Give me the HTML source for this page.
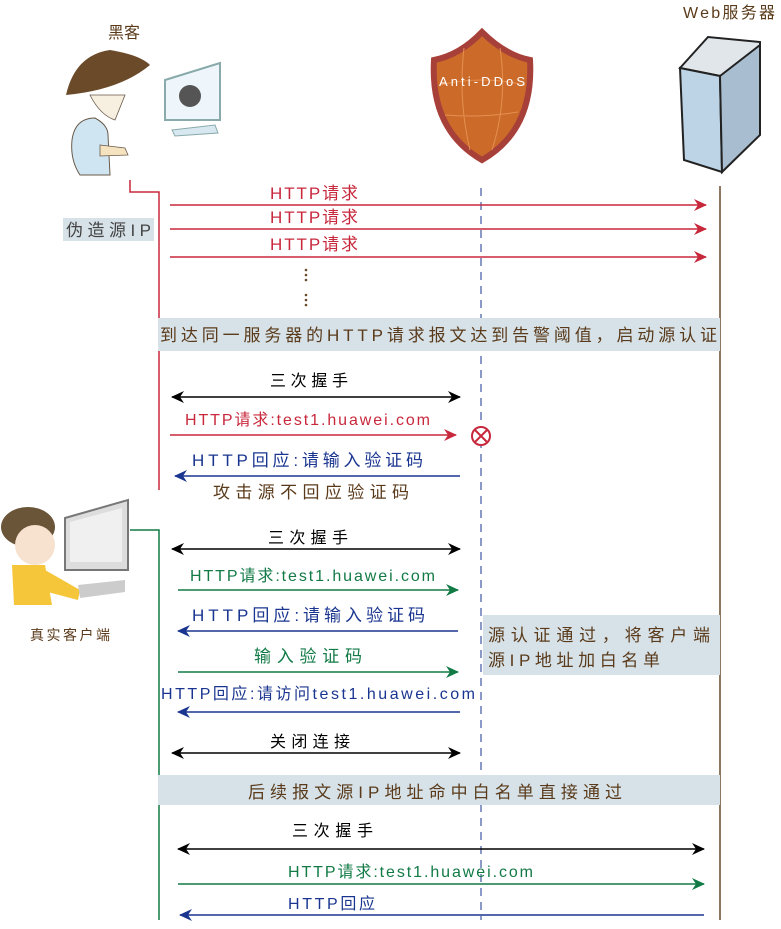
<!DOCTYPE html>
<html><head><meta charset="utf-8"><style>
body{margin:0;background:#fff;}
svg text{font-family:"Liberation Sans","Noto Sans CJK SC",sans-serif;}
</style></head><body>
<svg width="781" height="924" viewBox="0 0 781 924" xmlns="http://www.w3.org/2000/svg">
<defs>
<marker id="r" markerWidth="14" markerHeight="14" refX="12" refY="7" orient="auto-start-reverse" markerUnits="userSpaceOnUse"><path d="M0,1 L13,7 L0,13 L4,7z" fill="#c8283c"/></marker>
<marker id="k" markerWidth="14" markerHeight="14" refX="12" refY="7" orient="auto-start-reverse" markerUnits="userSpaceOnUse"><path d="M0,1 L13,7 L0,13 L4,7z" fill="#000"/></marker>
<marker id="g" markerWidth="14" markerHeight="14" refX="12" refY="7" orient="auto-start-reverse" markerUnits="userSpaceOnUse"><path d="M0,1 L13,7 L0,13 L4,7z" fill="#117a45"/></marker>
<marker id="b" markerWidth="14" markerHeight="14" refX="12" refY="7" orient="auto-start-reverse" markerUnits="userSpaceOnUse"><path d="M0,1 L13,7 L0,13 L4,7z" fill="#1a3590"/></marker>
</defs>
<text x="108" y="38" font-size="16" fill="#5a3a1a" textLength="32">黑客</text>
<text x="683" y="18" font-size="16" fill="#5a3a1a" textLength="92">Web服务器</text>
<!-- hacker -->
<path d="M66,95 Q75,55 110,50 Q140,55 150,65 Q120,90 66,95Z" fill="#6b4a2a"/>
<path d="M90,95 Q100,115 115,120 L125,95Z" fill="#f7efe0" stroke="#6a5a4a" stroke-width="0.8"/>
<path d="M72,140 Q75,118 95,118 Q108,125 108,135 L110,175 L80,175 Q70,160 72,140Z" fill="#cfe6f2" stroke="#6a5a4a"/>
<path d="M100,145 L125,148 L128,155 L100,156Z" fill="#f5e3c0" stroke="#6a5a4a" stroke-width="0.8"/>
<path d="M165,80 L220,63 L220,120 L165,120Z" fill="#eef6fb" stroke="#8aa" stroke-width="2"/>
<circle cx="190" cy="96" r="11" fill="#555"/>
<path d="M172,130 L215,125 L218,133 L175,136Z" fill="#d8e8f0" stroke="#8aa"/>
<!-- shield -->
<path d="M482,32 Q505,55 530,60 Q534,130 482,160 Q430,130 434,60 Q460,55 482,32Z" fill="#cc6a2a" stroke="#a8403a" stroke-width="6"/>
<path d="M440,85 Q482,75 525,85 M445,115 Q482,118 518,112 M464,48 Q458,100 470,150 M500,48 Q508,100 492,150" fill="none" stroke="#e49050" stroke-width="1"/>
<text x="439" y="86" font-size="13" fill="#fff" textLength="86">Anti-DDoS</text>
<!-- server -->
<path d="M680,68 L708,37 L760,42 L760,50 L730,78Z" fill="#e0e6ea" stroke="#222" stroke-width="2"/>
<path d="M680,68 L720,76 L722,172 L684,160Z" fill="#bcd4e6" stroke="#222" stroke-width="2"/>
<path d="M720,76 L760,45 L760,135 L722,172Z" fill="#a8bed0" stroke="#222" stroke-width="2"/>
<!-- client -->
<ellipse cx="28" cy="527" rx="27" ry="20" fill="#6b5538"/>
<ellipse cx="35" cy="545" rx="20" ry="20" fill="#f7e2d0"/>
<path d="M12,565 L45,565 L52,605 L14,605Z" fill="#f6c63a"/>
<path d="M45,570 L80,590 L78,600 L40,590Z" fill="#f6c63a"/>
<path d="M65,518 L128,500 L128,570 L65,570Z" fill="#ddd" stroke="#777" stroke-width="2"/>
<path d="M70,522 L122,508 L122,562 L70,562Z" fill="#f0f0f0"/>
<path d="M78,585 L125,580 L125,592 L80,598Z" fill="#ccc"/>
<text x="30" y="640" font-size="14" fill="#5a3a1a" textLength="80">真实客户端</text>
<!-- lifelines -->
<polyline points="130,180 130,192 159,192 159,490" fill="none" stroke="#c8283c" stroke-width="1.5"/>
<polyline points="130,530 159,530 159,920" fill="none" stroke="#117a45" stroke-width="1.5"/>
<line x1="720" y1="186" x2="720" y2="920" stroke="#6b4a2a" stroke-width="1.5"/>
<line x1="481" y1="188" x2="481" y2="920" stroke="#1a3590" stroke-width="1" stroke-dasharray="8,6"/>
<rect x="63" y="218" width="91" height="23" fill="#d6e2e8"/>
<text x="66" y="236" font-size="17" fill="#444" textLength="85">伪造源IP</text>
<g font-size="17" fill="#c8283c">
<text x="270" y="199" textLength="88">HTTP请求</text><text x="270" y="223" textLength="88">HTTP请求</text><text x="270" y="250" textLength="88">HTTP请求</text></g>
<line x1="170" y1="205" x2="706" y2="205" stroke="#c8283c" stroke-width="1.5" marker-end="url(#r)"/>
<line x1="170" y1="229" x2="706" y2="229" stroke="#c8283c" stroke-width="1.5" marker-end="url(#r)"/>
<line x1="170" y1="257" x2="706" y2="257" stroke="#c8283c" stroke-width="1.5" marker-end="url(#r)"/>
<g fill="#6b4a2a"><circle cx="306" cy="270" r="1.3"/><circle cx="306" cy="275" r="1.3"/><circle cx="306" cy="280" r="1.3"/><circle cx="306" cy="295" r="1.3"/><circle cx="306" cy="300" r="1.3"/><circle cx="306" cy="305" r="1.3"/></g>
<rect x="158" y="318" width="562" height="33" fill="#d6e2e8"/>
<text x="160" y="341" font-size="17" fill="#5a3a1a" textLength="557">到达同一服务器的HTTP请求报文达到告警阈值，启动源认证</text>
<text x="270" y="386" font-size="16" fill="#000" textLength="78">三次握手</text>
<line x1="172" y1="397" x2="460" y2="397" stroke="#000" stroke-width="1.5" marker-start="url(#k)" marker-end="url(#k)"/>
<text x="185" y="425" font-size="16" fill="#c8283c" textLength="245">HTTP请求:test1.huawei.com</text>
<line x1="170" y1="435" x2="456" y2="435" stroke="#c8283c" stroke-width="1.5" marker-end="url(#r)"/>
<circle cx="481" cy="436" r="9" fill="#fff" stroke="#c8283c" stroke-width="2"/>
<path d="M475,430 L487,442 M487,430 L475,442" stroke="#c8283c" stroke-width="2"/>
<text x="192" y="466" font-size="17" fill="#1a3590" textLength="231">HTTP回应:请输入验证码</text>
<line x1="460" y1="476" x2="175" y2="476" stroke="#1a3590" stroke-width="1.5" marker-end="url(#b)"/>
<text x="213" y="498" font-size="17" fill="#5a3a1a" textLength="196">攻击源不回应验证码</text>
<text x="268" y="543" font-size="16" fill="#000" textLength="80">三次握手</text>
<line x1="172" y1="549" x2="460" y2="549" stroke="#000" stroke-width="1.5" marker-start="url(#k)" marker-end="url(#k)"/>
<text x="190" y="581" font-size="16" fill="#117a45" textLength="245">HTTP请求:test1.huawei.com</text>
<line x1="178" y1="590" x2="458" y2="590" stroke="#117a45" stroke-width="1.5" marker-end="url(#g)"/>
<text x="192" y="621" font-size="17" fill="#1a3590" textLength="233">HTTP回应:请输入验证码</text>
<line x1="458" y1="631" x2="178" y2="631" stroke="#1a3590" stroke-width="1.5" marker-end="url(#b)"/>
<rect x="483" y="615" width="237" height="60" fill="#d6e2e8"/>
<text x="488" y="641" font-size="17" fill="#5a3a1a" textLength="222">源认证通过，将客户端</text>
<text x="488" y="666" font-size="17" fill="#5a3a1a" textLength="172">源IP地址加白名单</text>
<text x="254" y="662" font-size="17" fill="#117a45" textLength="108">输入验证码</text>
<line x1="178" y1="672" x2="458" y2="672" stroke="#117a45" stroke-width="1.5" marker-end="url(#g)"/>
<text x="161" y="699" font-size="16" fill="#1a3590" textLength="314">HTTP回应:请访问test1.huawei.com</text>
<line x1="460" y1="712" x2="178" y2="712" stroke="#1a3590" stroke-width="1.5" marker-end="url(#b)"/>
<text x="270" y="747" font-size="16" fill="#000" textLength="80">关闭连接</text>
<line x1="172" y1="753" x2="460" y2="753" stroke="#000" stroke-width="1.5" marker-start="url(#k)" marker-end="url(#k)"/>
<rect x="158" y="775" width="562" height="30" fill="#d6e2e8"/>
<text x="248" y="798" font-size="17" fill="#5a3a1a" textLength="374">后续报文源IP地址命中白名单直接通过</text>
<text x="292" y="836" font-size="16" fill="#000" textLength="81">三次握手</text>
<line x1="178" y1="849" x2="704" y2="849" stroke="#000" stroke-width="1.5" marker-start="url(#k)" marker-end="url(#k)"/>
<text x="288" y="877" font-size="16" fill="#117a45" textLength="245">HTTP请求:test1.huawei.com</text>
<line x1="178" y1="884" x2="704" y2="884" stroke="#117a45" stroke-width="1.5" marker-end="url(#g)"/>
<text x="288" y="909" font-size="16" fill="#1a3590" textLength="87">HTTP回应</text>
<line x1="704" y1="915" x2="180" y2="915" stroke="#1a3590" stroke-width="1.5" marker-end="url(#b)"/>
</svg>
</body></html>
